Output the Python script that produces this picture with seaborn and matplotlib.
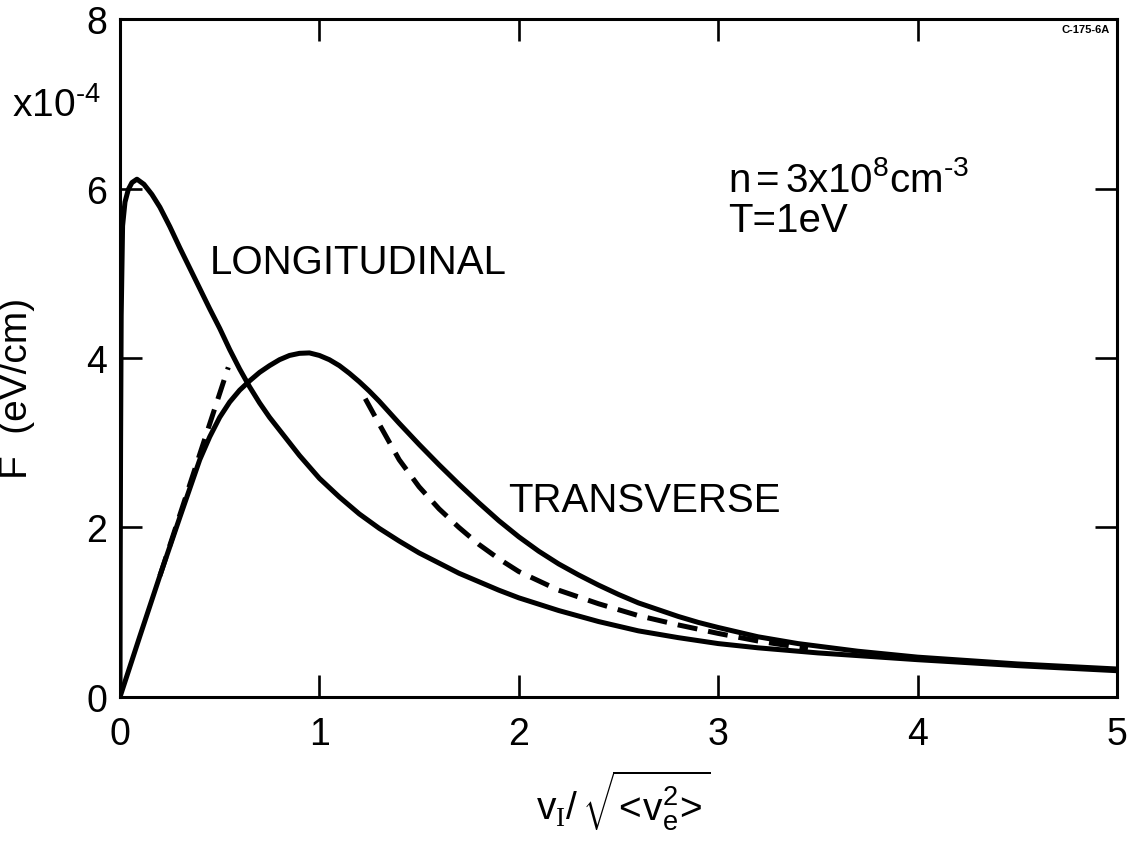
import numpy as np
import pandas as pd
import seaborn as sns
import matplotlib
matplotlib.use("Agg")
import matplotlib.pyplot as plt

# values (F in units of 1e-4 eV/cm)
long_x = [0.0, 0.001, 0.003, 0.006, 0.013, 0.025, 0.042, 0.06, 0.085, 0.12, 0.16, 0.2,
          0.25, 0.3, 0.35, 0.4, 0.45, 0.5, 0.55, 0.6, 0.65, 0.7, 0.75, 0.8, 0.9, 1.0,
          1.1, 1.2, 1.3, 1.4, 1.5, 1.6, 1.7, 1.8, 1.9, 2.0, 2.2, 2.4, 2.6, 2.8, 3.0, 3.2,
          3.5, 4.0, 4.5, 5.0]
long_y = [0.0, 1.5, 3.0, 4.5, 5.56, 5.84, 5.99, 6.07, 6.11, 6.05, 5.93, 5.78,
          5.55, 5.3, 5.06, 4.82, 4.58, 4.35, 4.1, 3.87, 3.66, 3.47, 3.3, 3.15, 2.85, 2.58,
          2.36, 2.16, 1.99, 1.84, 1.7, 1.58, 1.46, 1.36, 1.26, 1.17, 1.02, 0.89, 0.78, 0.7,
          0.63, 0.58, 0.52, 0.44, 0.37, 0.31]

trans_x = [0.0, 0.1, 0.2, 0.3, 0.4, 0.45, 0.5, 0.55, 0.6, 0.65, 0.7, 0.75, 0.8, 0.85, 0.9,
           0.95, 1.0, 1.05, 1.1, 1.15, 1.2, 1.25, 1.3, 1.35, 1.4, 1.5, 1.6, 1.7, 1.8, 1.9,
           2.0, 2.1, 2.2, 2.3, 2.4, 2.5, 2.6, 2.7, 2.8, 2.9, 3.0, 3.2, 3.4, 3.7, 4.0, 4.5, 5.0]
trans_y = [0.0, 0.72, 1.43, 2.12, 2.8, 3.07, 3.3, 3.48, 3.62, 3.73, 3.83, 3.91, 3.98, 4.03, 4.055,
           4.06, 4.03, 3.98, 3.91, 3.82, 3.72, 3.61, 3.49, 3.36, 3.23, 2.98, 2.74, 2.51, 2.29, 2.08,
           1.89, 1.72, 1.57, 1.44, 1.32, 1.21, 1.11, 1.03, 0.95, 0.88, 0.82, 0.71, 0.63, 0.54, 0.47, 0.39, 0.33]

# asymptotic approximations (dashed)
low_x = [0.2, 0.543]
low_y = [1.43, 3.89]
high_x = [1.23, 1.3, 1.4, 1.5, 1.6, 1.7, 1.8, 1.9, 2.0, 2.2, 2.4, 2.6, 2.8, 3.0, 3.2, 3.45]
high_y = [3.52, 3.22, 2.8, 2.48, 2.22, 2.0, 1.8, 1.63, 1.48, 1.26, 1.1, 0.96, 0.85, 0.75, 0.66, 0.57]

sns.set_theme(style="ticks")
plt.rcParams['font.family'] = ['Liberation Sans', 'DejaVu Sans']
plt.rcParams['text.color'] = 'black'
plt.rcParams['axes.labelcolor'] = 'black'
plt.rcParams['mathtext.fontset'] = 'custom'
plt.rcParams['mathtext.sf'] = 'Liberation Sans'
plt.rcParams['mathtext.rm'] = 'Liberation Serif'
plt.rcParams['mathtext.it'] = 'Liberation Sans:italic'

fig = plt.figure(figsize=(11.31, 8.45), dpi=100)
ax = fig.add_axes([0.1061, 0.1740, 0.8815, 0.8023])

lw = 3.6
sns.lineplot(data=pd.DataFrame({'x': long_x, 'y': long_y}), x='x', y='y', ax=ax,
             color='black', lw=lw, estimator=None, sort=False)
sns.lineplot(data=pd.DataFrame({'x': trans_x, 'y': trans_y}), x='x', y='y', ax=ax,
             color='black', lw=lw, estimator=None, sort=False)
for dx, dy in [(low_x, low_y), (high_x, high_y)]:
    sns.lineplot(data=pd.DataFrame({'x': dx, 'y': dy}), x='x', y='y', ax=ax,
                 color='black', lw=lw, estimator=None, sort=False,
                 linestyle=(0, (4, 2.2)))

ax.set_xlim(0, 5)
ax.set_ylim(0, 8)
ax.set_xticks(range(0, 6))
ax.set_yticks([0, 2, 4, 6, 8])
ax.tick_params(direction='in', length=15.8, width=1.9, top=True, right=True,
               labelsize=27, colors='black')
ax.tick_params(axis='x', pad=14)
ax.tick_params(axis='y', pad=9)
for s in ax.spines.values():
    s.set_linewidth(2.2)
    s.set_color('black')

ax.set_xlabel(r'$\mathsf{v}_{\mathrm{I}}\mathsf{/}\,\sqrt{\!\mathsf{<}\!\mathsf{v_e^2}\!\mathsf{>}\!}$',
              fontsize=28)
ax.xaxis.set_label_coords(0.505, -0.103)
ax.xaxis.label.set_va('top')
ax.set_ylabel('F  (eV/cm)', fontsize=28)
ax.yaxis.set_label_coords(-0.085, 0.457)

fig.text(12 / 1131, 1 - 117 / 845, '$\\mathsf{x10^{\u20104}}$', fontsize=28, va='baseline')
fig.text(1110 / 1131, 1 - 33 / 845, 'C-175-6A', fontsize=8, fontweight='bold',
         ha='right', va='baseline')

ax.text(0.451, 5.0, 'LONGITUDINAL', fontsize=29, va='baseline')
ax.text(1.946, 2.19, 'TRANSVERSE', fontsize=29, va='baseline')
ax.text(3.05, 5.97, 'n$\\,$=$\\,$3x10$^{\\mathsf{8}}$cm$^{\\mathsf{\u20103}}$', fontsize=29, va='baseline')
ax.text(3.05, 5.50, 'T=1eV', fontsize=29, va='baseline')

fig.savefig('out.png', dpi=100)
